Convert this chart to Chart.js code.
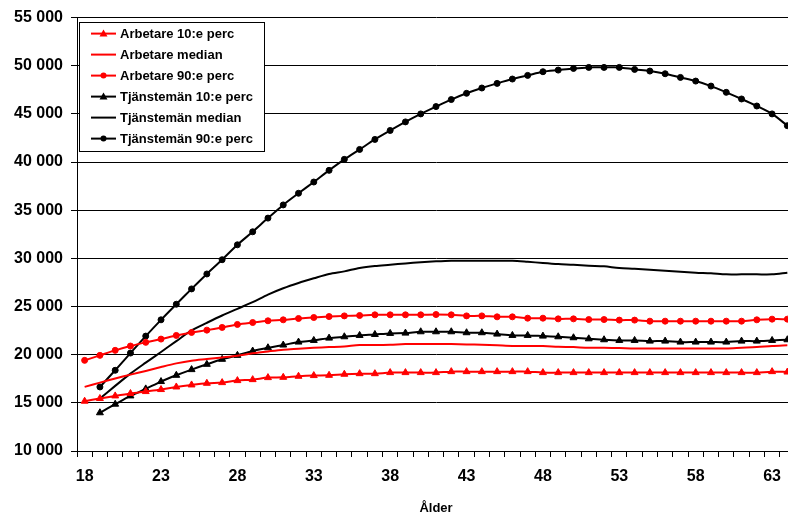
<!DOCTYPE html>
<html>
<head>
<meta charset="utf-8">
<script src="https://cdn.jsdelivr.net/npm/chart.js@4.4.1/dist/chart.umd.min.js"></script>
<style>
  html, body { margin: 0; padding: 0; background: #fff; overflow: hidden; }
  #wrap { width: 800px; height: 513px; position: relative; }
</style>
</head>
<body>
<div id="wrap"><canvas id="myChart"></canvas></div>
<script>
// åldrar 18..64
const ages = [];
for (let a = 18; a <= 64; a++) ages.push(a);

const yTicks = [10000, 15000, 20000, 25000, 30000, 35000, 40000, 45000, 50000, 55000];

const arbetare10 = [15170, 15450, 15720, 15970, 16170, 16380, 16650, 16860, 17030, 17100,
  17310, 17410, 17620, 17650, 17760, 17830, 17860, 17970, 18030, 18030,
  18140, 18140, 18140, 18140, 18240, 18240, 18240, 18240, 18240, 18240,
  18140, 18140, 18140, 18140, 18140, 18140, 18140, 18140, 18140, 18140,
  18140, 18140, 18140, 18140, 18140, 18240, 18200];

const arbetareMedian = [16660, 17100, 17520, 17930, 18310, 18720, 19100, 19380, 19550, 19720,
  19900, 20140, 20340, 20520, 20620, 20720, 20790, 20860, 21000, 21000,
  21030, 21100, 21100, 21100, 21100, 21070, 21030, 20970, 20900, 20900,
  20900, 20830, 20790, 20720, 20720, 20690, 20650, 20650, 20650, 20650,
  20650, 20650, 20650, 20720, 20790, 20900, 20970];

const arbetare90 = [19410, 19930, 20450, 20900, 21280, 21620, 22000, 22310, 22550, 22830,
  23140, 23340, 23520, 23620, 23760, 23860, 23960, 24030, 24070, 24140,
  24140, 24140, 24140, 24170, 24140, 24030, 24030, 23930, 23930, 23790,
  23790, 23720, 23720, 23650, 23650, 23590, 23590, 23480, 23480, 23480,
  23480, 23480, 23480, 23480, 23620, 23690, 23690];

const tjm10 = [null, 13970, 14860, 15720, 16450, 17210, 17860, 18450, 19000, 19520,
  19930, 20380, 20720, 21000, 21310, 21480, 21720, 21860, 22000, 22100,
  22210, 22240, 22380, 22380, 22380, 22280, 22280, 22140, 22000, 22000,
  21930, 21860, 21760, 21650, 21550, 21480, 21480, 21410, 21410, 21310,
  21310, 21310, 21310, 21410, 21410, 21480, 21550];

const tjmMedian = [null, 15450, 16760, 18030, 19170, 20280, 21410, 22520, 23310, 24070,
  24760, 25450, 26240, 26900, 27450, 27930, 28380, 28650, 29000, 29210,
  29340, 29480, 29590, 29690, 29760, 29760, 29760, 29760, 29760, 29650,
  29520, 29410, 29340, 29240, 29170, 29000, 28930, 28830, 28720, 28620,
  28520, 28450, 28340, 28340, 28340, 28340, 28520];

const tjm90 = [null, 16650, 18380, 20170, 21930, 23620, 25240, 26830, 28380, 29860,
  31410, 32760, 34180, 35550, 36760, 37930, 39140, 40280, 41310, 42350,
  43280, 44170, 45000, 45760, 46490, 47140, 47690, 48170, 48620, 49000,
  49380, 49550, 49720, 49830, 49830, 49830, 49620, 49450, 49170, 48790,
  48410, 47890, 47240, 46550, 45820, 45000, 43780];

const FONT = '"Liberation Sans", Arial, sans-serif';

function serie(label, data, color, style) {
  return {
    label: label,
    data: data,
    borderColor: color,
    backgroundColor: color,
    borderWidth: 2,
    tension: 0.3,
    pointStyle: style || false,
    pointRadius: style === 'triangle' ? 4 : (style ? 3 : 0),
    pointBorderWidth: 1,
    spanGaps: false
  };
}

// legend ritas som en ruta ovanpå diagramytan
const boxLegend = {
  id: 'boxLegend',
  afterDraw(chart) {
    const ctx = chart.ctx;
    const a = chart.chartArea;
    const x0 = a.left + 2, y0 = a.top + 4, w = 185, h = 129;
    ctx.save();
    ctx.fillStyle = '#fff';
    ctx.fillRect(x0, y0, w, h);
    ctx.strokeStyle = '#000';
    ctx.lineWidth = 1;
    ctx.strokeRect(Math.round(x0) + 0.5, Math.round(y0) + 0.5, w, h);
    ctx.font = 'bold 13px ' + FONT;
    ctx.textBaseline = 'middle';
    chart.data.datasets.forEach((ds, i) => {
      const y = y0 + 12 + i * 21;
      ctx.strokeStyle = ds.borderColor;
      ctx.lineWidth = 2;
      ctx.beginPath();
      ctx.moveTo(x0 + 12, y);
      ctx.lineTo(x0 + 37, y);
      ctx.stroke();
      if (ds.pointStyle) {
        ctx.fillStyle = ds.borderColor;
        ctx.beginPath();
        if (ds.pointStyle === 'triangle') {
          ctx.moveTo(x0 + 24.5, y - 4);
          ctx.lineTo(x0 + 28.5, y + 3);
          ctx.lineTo(x0 + 20.5, y + 3);
        } else {
          ctx.arc(x0 + 24.5, y, 3, 0, Math.PI * 2);
        }
        ctx.closePath();
        ctx.fill();
      }
      ctx.fillStyle = '#000';
      ctx.fillText(ds.label, x0 + 41, y + 1);
    });
    ctx.restore();
  }
};

const ctx = document.getElementById('myChart').getContext('2d');
new Chart(ctx, {
  type: 'line',
  data: {
    labels: ages,
    datasets: [
      serie('Arbetare 10:e perc', arbetare10, '#ff0000', 'triangle'),
      serie('Arbetare median', arbetareMedian, '#ff0000'),
      serie('Arbetare 90:e perc', arbetare90, '#ff0000', 'circle'),
      serie('Tjänstemän 10:e perc', tjm10, '#000000', 'triangle'),
      serie('Tjänstemän median', tjmMedian, '#000000'),
      serie('Tjänstemän 90:e perc', tjm90, '#000000', 'circle')
    ]
  },
  options: {
    responsive: true,
    maintainAspectRatio: false,
    animation: false,
    layout: { padding: { top: 16, right: 2, left: 0, bottom: 0 } },
    plugins: {
      legend: { display: false },
      tooltip: { enabled: false }
    },
    scales: {
      x: {
        type: 'category',
        offset: true,
        afterFit(scale) { scale.height = 62; },
        grid: {
          offset: true,
          drawOnChartArea: false,
          drawTicks: true,
          tickLength: 6,
          color: '#000'
        },
        border: { display: true, color: '#000', width: 1 },
        ticks: {
          autoSkip: false,
          maxRotation: 0,
          padding: 10,
          color: '#000',
          font: { family: FONT, size: 16, weight: 'bold' },
          callback: function(value, index) {
            const a = ages[index];
            return (a - 18) % 5 === 0 ? String(a) : '';
          }
        },
        title: {
          display: true,
          text: 'Ålder',
          color: '#000',
          padding: { top: 0, bottom: -3 },
          font: { family: FONT, size: 13, weight: 'bold' }
        }
      },
      y: {
        min: yTicks[0],
        max: yTicks[yTicks.length - 1],
        afterFit(scale) { scale.width = 77; },
        afterBuildTicks(scale) {
          scale.ticks = yTicks.map(v => ({ value: v }));
        },
        grid: {
          color: '#000',
          lineWidth: 1,
          drawTicks: true,
          tickLength: 6
        },
        border: { display: true, color: '#000', width: 1 },
        ticks: {
          padding: 8,
          color: '#000',
          font: { family: FONT, size: 16, weight: 'bold' },
          callback: function(value) {
            return String(value).replace(/\B(?=(\d{3})+(?!\d))/g, ' ');
          }
        }
      }
    }
  },
  plugins: [boxLegend]
});
</script>
</body>
</html>
